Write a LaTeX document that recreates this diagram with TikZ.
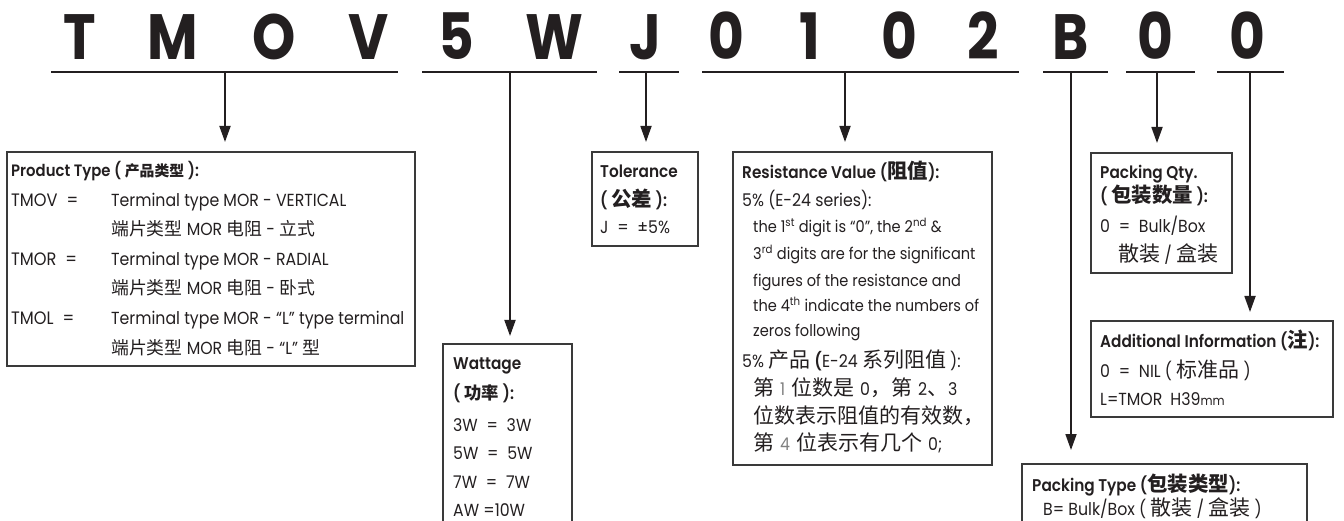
\documentclass[tikz,border=0pt]{standalone}
\usepackage{fontspec}
\setmainfont{Poppins}[FakeStretch=0.9,BoldFont={Poppins SemiBold},BoldFeatures={FakeStretch=0.9}]
\newfontfamily\bigf{Poppins}[FakeStretch=0.86]
\newfontfamily\cjk{Noto Sans CJK SC}[Scale=1.2]
\newfontfamily\cjkp{Noto Sans CJK SC}[Scale=1.02]
\newfontfamily\cjks{Noto Sans CJK SC}[Scale=0.9]
\usetikzlibrary{arrows.meta}
\definecolor{ink}{HTML}{231F20}
\definecolor{boxc}{HTML}{3A3A3A}
\newcommand\zh[1]{{\cjk #1}}
\newcommand\zhp[1]{{\cjkp #1}}
\newcommand\zhs[1]{{\cjks #1}}
\newcommand\fs[1]{\fontsize{#1}{#1}\selectfont}
\newcommand\eq{\hspace{0.5em}=\hspace{0.5em}}
\newcommand\gap{\hspace{6pt}}
\begin{document}
\begin{tikzpicture}[x=1pt,y=-1pt,
  big/.style={anchor=base,inner sep=0pt,text=ink,font=\bigf\bfseries\fs{64}},
  uline/.style={draw=ink,line width=1.7pt},
  arr/.style={draw=ink,line width=1.8pt,-{Triangle[length=16pt,width=11pt]},shorten >=10pt},
  box/.style={draw=boxc,line width=1.3pt,rectangle,inner sep=0pt,outer sep=0pt,anchor=north west},
  txt/.style={anchor=base west,inner sep=0pt,text=ink,font=\fs{17.5}},
  hd/.style={txt,font=\bfseries\fs{17}},
  rtx/.style={txt,font=\fs{16.2}},
  ptx/.style={txt,font=\fs{18}},
  phd/.style={txt,font=\bfseries\fs{16.5}},
  psm/.style={txt,font=\fs{17.5}}]
\useasboundingbox (0,0) rectangle (1344,521);
\clip (0,0) rectangle (1344,521);
% big code letters
\foreach \x/\c [count=\i] in {80/T,173/M,274/O,369/V,456/5,554/W,645/J,726/0,810/1,899/0,983/2,1071/B,1155/0,1247/0}
  \node[big] (L\i) at (\x,60) {\c};
% underlines
\draw[uline] (51,72) coordinate (u1a) -- (398,72) coordinate (u1b);
\draw[uline] (422,72) coordinate (u2a) -- (597,72) coordinate (u2b);
\draw[uline] (619,72) coordinate (u3a) -- (679,72) coordinate (u3b);
\draw[uline] (702,72) coordinate (u4a) -- (1019,72) coordinate (u4b);
\draw[uline] (1043,72) coordinate (u5a) -- (1108,72) coordinate (u5b);
\draw[uline] (1126,72) coordinate (u6a) -- (1195,72) coordinate (u6b);
\draw[uline] (1217,72) coordinate (u7a) -- (1284,72) coordinate (u7b);
\coordinate (k1) at (225,72);
\coordinate (k2) at (510,72);
\coordinate (k3) at (646,72);
\coordinate (k4) at (845,72);
\coordinate (k5) at (1071,72);
\coordinate (k6) at (1157,72);
\coordinate (k7) at (1250,72);
% boxes
\node[box,minimum width=408pt,minimum height=214pt] (prod) at (7,152) {};
\node[box,minimum width=106pt,minimum height=94pt] (tol) at (592,152) {};
\node[box,minimum width=259pt,minimum height=313pt] (res) at (733,152) {};
\node[box,minimum width=141pt,minimum height=120pt] (pq) at (1091,153) {};
\node[box,minimum width=242pt,minimum height=96pt] (add) at (1091,321) {};
\node[box,minimum width=285pt,minimum height=80pt] (pt) at (1022,464) {};
\node[box,minimum width=129pt,minimum height=200pt] (wat) at (443,344) {};
% arrows
\draw[arr] (k1) -- (k1 |- prod.north);
\draw[arr,shorten >=8pt] (k2) -- (k2 |- wat.north);
\draw[arr] (k3) -- (k3 |- tol.north);
\draw[arr] (k4) -- (k4 |- res.north);
\draw[arr,shorten >=14pt] (k5) -- (k5 |- pt.north);
\draw[arr] (k6) -- (k6 |- pq.north);
\draw[arr,shorten >=9pt] (k7) -- (k7 |- add.north);
% product type
\node[phd] (p0) at (11,177) {Product Type ( \zhs{产品类型} ):};
\node[ptx] (p1) at (11,207) {TMOV\eq};
\node[psm] (p1b) at (111,207) {Terminal type MOR - VERTICAL};
\node[psm] (p2) at (111,236) {\zhp{端片类型} MOR \zhp{电阻} - \zhp{立式}};
\node[ptx] (p3) at (11,266) {TMOR\eq};
\node[psm] (p3b) at (111,266) {Terminal type MOR - RADIAL};
\node[psm] (p4) at (111,295) {\zhp{端片类型} MOR \zhp{电阻} - \zhp{卧式}};
\node[ptx] (p5) at (11,325) {TMOL\eq};
\node[psm] (p5b) at (111,325) {Terminal type MOR - “L” type terminal};
\node[psm] (p6) at (111,354) {\zhp{端片类型} MOR \zhp{电阻} - “L” \zhp{型}};
% tolerance
\node[hd] (t0) at (600,178) {Tolerance};
\node[hd] (t1) at (600,207) {( \zh{公差} ):};
\node[txt] (t2) at (600,234) {J\eq±5\%};
% resistance
\node[hd] (r0) at (742,179) {Resistance Value (\zh{阻值}):};
\node[txt] (r1) at (742,207) {5\% (E-24 series):};
\node[rtx] (r2) at (753,233) {the 1\textsuperscript{st} digit is “0”, the 2\textsuperscript{nd} \&};
\node[rtx] (r3) at (753,260) {3\textsuperscript{rd} digits are for the significant};
\node[rtx] (r4) at (753,287) {figures of the resistance and};
\node[rtx] (r5) at (753,312) {the 4\textsuperscript{th} indicate the numbers of};
\node[rtx] (r6) at (753,337) {zeros following};
\node[txt] (r7) at (742,367) {5\% \zh{产品} \textbf{(}E-24 \zh{系列阻值} ):};
\node[txt] (r8) at (753,395) {\zh{第}\gap{\color{gray}1}\gap\zh{位数是}\gap 0\zh{，第}\gap 2\zh{、}3};
\node[txt] (r9) at (753,423) {\zh{位数表示阻值的有效数，}};
\node[txt] (r10) at (753,450) {\zh{第}\gap{\color{gray}4}\gap\zh{位表示有几个}\gap 0;};
% packing qty
\node[hd] (q0) at (1100,179) {Packing Qty.};
\node[hd] (q1) at (1100,203) {( \zh{包装数量} ):};
\node[txt] (q2) at (1100,233) {0\eq Bulk/Box};
\node[txt] (q3) at (1118,262) {\zh{散装} / \zh{盒装}};
% additional
\node[hd] (a0) at (1100,347) {Additional Information (\zh{注}):};
\node[txt] (a1) at (1100,377) {0\eq NIL ( \zh{标准品} )};
\node[txt] (a2) at (1100,405) {L=TMOR\hspace{8pt}H39{\fs{13}mm}};
% packing type
\node[hd] (b0) at (1032,491) {Packing Type (\zh{包装类型}):};
\node[txt] (b1) at (1043,515) {B= Bulk/Box ( \zh{散装} / \zh{盒装} )};
% wattage
\node[hd] (w0) at (453,370) {Wattage};
\node[hd] (w1) at (453,399) {( \zhp{功率} ):};
\node[txt] (w2) at (453,431) {3W\eq 3W};
\node[txt] (w3) at (453,459) {5W\eq 5W};
\node[txt] (w4) at (453,488) {7W\eq 7W};
\node[txt] (w5) at (453,516) {AW =10W};
\end{tikzpicture}
\end{document}
